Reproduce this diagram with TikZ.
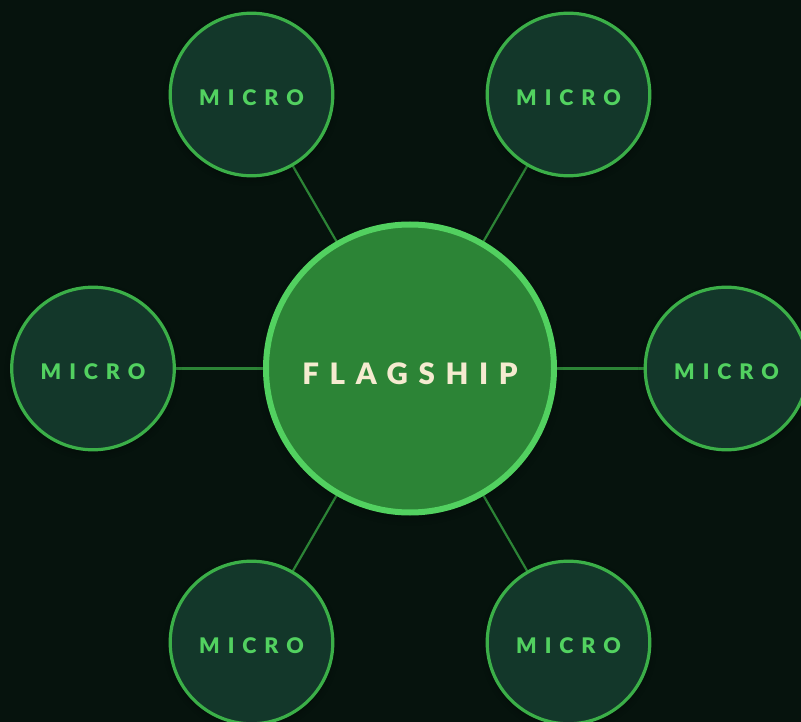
\documentclass[tikz,border=0pt]{standalone}
\usepackage{fontspec}
\setmainfont{Lato}[BoldFont={Lato Black}]
\usetikzlibrary{shadows.blur}
\definecolor{bgc}{HTML}{06130D}
\definecolor{microfill}{HTML}{13372A}
\definecolor{microline}{HTML}{3BAF48}
\definecolor{microtext}{HTML}{52D160}
\definecolor{hubfill}{HTML}{2C8436}
\definecolor{hubline}{HTML}{52D160}
\definecolor{hubtext}{HTML}{F5EBD0}
\definecolor{linkc}{HTML}{2C8436}
\tikzset{x=1pt,y=-1pt,
 micro/.style={circle,draw=microline,fill=microfill,line width=3.2pt,minimum size=162.6pt,inner sep=0pt,text=microtext,font=\fontsize{21.5}{26}\selectfont\bfseries,blur shadow={shadow xshift=0pt,shadow yshift=-3pt,shadow blur radius=7pt,shadow opacity=35}},
 hub/.style={circle,draw=hubline,fill=hubfill,line width=6pt,minimum size=288pt,inner sep=0pt,text=hubtext,font=\fontsize{29.5}{34}\selectfont\bfseries,blur shadow={shadow xshift=0pt,shadow yshift=-4pt,shadow blur radius=9pt,shadow opacity=35}},
 link/.style={draw=linkc,line width=2.2pt}}
\newcommand{\mtxt}{\raisebox{-11.2pt}[0pt][0pt]{\addfontfeatures{LetterSpace=37}MICRO}}
\newcommand{\htxt}{\raisebox{-15.5pt}[0pt][0pt]{\addfontfeatures{LetterSpace=36}FLAGSHIP}}
\begin{document}
\begin{tikzpicture}
\path[use as bounding box,fill=bgc] (0,0) rectangle (801,722);
\coordinate (hc) at (410,368.5);
\coordinate (ac) at (251.5,94.5);
\coordinate (bc) at (568.5,94.5);
\coordinate (cc) at (93,368.5);
\coordinate (dc) at (726.5,368.5);
\coordinate (ec) at (251.5,642.5);
\coordinate (fc) at (568.5,642.5);
\foreach \n in {a,b,c,d,e,f} \draw[link] (hc) -- (\n c);
\node[hub] (h) at (hc) {\htxt};
\node[micro] (a) at (ac) {\mtxt};
\node[micro] (b) at (bc) {\mtxt};
\node[micro] (c) at (cc) {\mtxt};
\node[micro] (d) at (dc) {\mtxt};
\node[micro] (e) at (ec) {\mtxt};
\node[micro] (f) at (fc) {\mtxt};
\end{tikzpicture}
\end{document}
